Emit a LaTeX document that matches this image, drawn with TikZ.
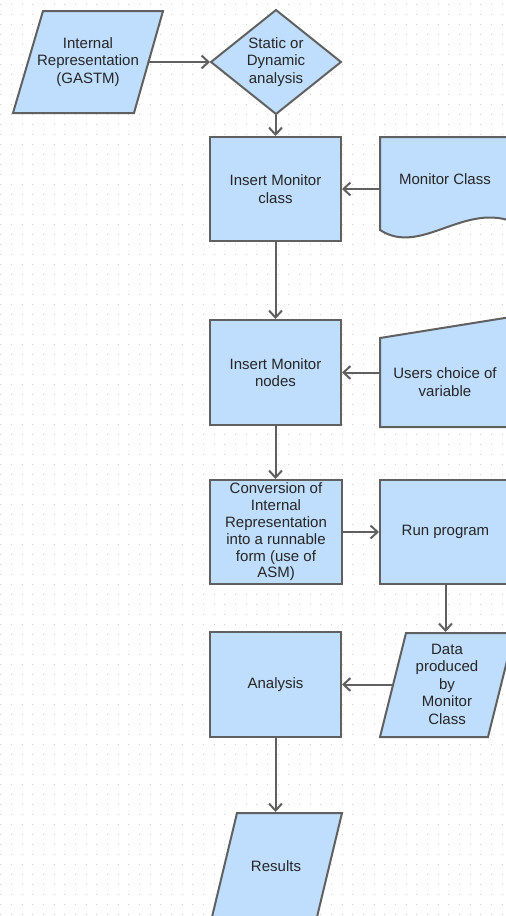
\documentclass[tikz,border=0pt]{standalone}
\usepackage{fontspec}
\setmainfont{Liberation Sans}
\usetikzlibrary{arrows.meta}
\definecolor{fillc}{RGB}{191,221,252}
\definecolor{linec}{RGB}{96,96,96}
\definecolor{textc}{RGB}{38,38,38}
\definecolor{dotc}{RGB}{208,208,208}
\begin{document}
\begin{tikzpicture}[x=1pt,y=-1pt,
  shapeline/.style={draw=linec, fill=fillc, line width=2pt, line join=miter},
  lbl/.style={align=center, text=textc, font=\fontsize{15}{17.5}\selectfont, inner sep=0pt},
  box/.style={shapeline, lbl, rectangle, minimum width=131pt, minimum height=104pt},
  conn/.style={draw=linec, line width=2pt, -{Straight Barb[length=7pt,width=13pt]}}]
\useasboundingbox (0,0) rectangle (506,916);
\clip (0,0) rectangle (506,916);
% dotted grid
\foreach \i in {0,...,47} {
  \draw[dotc, line width=1pt, dash pattern=on 1.5pt off 8.5pt] ({0.8+10.67*\i},3.5) -- ({0.8+10.67*\i},916);
}
% Internal Representation
\draw[shapeline] (43,11) -- (163,11) -- (134,113) -- (13,113) -- cycle;
\node[lbl] (irep) at (88,62) {Internal\\Representation\\(GASTM)};
\coordinate (irepR) at (148.5,62);
% Decision
\draw[shapeline] (276,10) -- (341,62) -- (276,114) -- (211,62) -- cycle;
\node[lbl] (sda) at (276,62) {Static or\\Dynamic\\analysis};
\coordinate (sdaL) at (210,62);
\coordinate (sdaB) at (275.5,115);
% Boxes
\node[box] (imc) at (275.5,189) {Insert Monitor\\class};
\node[box, minimum height=105pt] (imn) at (275.5,372.5) {Insert Monitor\\nodes};
\node[box, minimum width=132pt, font=\fontsize{15}{16.8}\selectfont] (conv) at (276,532) {Conversion of\\Internal\\Representation\\into a runnable\\form (use of\\ASM)};
\node[box] (run) at (445.5,532) {Run program};
\node[box, minimum height=105pt] (ana) at (275.5,684.5) {Analysis};
% Monitor Class document
\draw[shapeline] (380,137) -- (380,230) .. controls (420,256) and (462,204) .. (511,221) -- (511,137) -- cycle;
\node[lbl] (mc) at (445,179) {Monitor Class};
\coordinate (mcL) at (379,189);
% Users choice manual input
\draw[shapeline] (380,338) -- (511,317) -- (511,427) -- (380,427) -- cycle;
\node[lbl] (uc) at (445,382) {Users choice of\\variable};
\coordinate (ucL) at (379,372.5);
% Data produced
\draw[shapeline] (406,633) -- (514,633) -- (488,737) -- (380,737) -- cycle;
\node[lbl] (data) at (447,684) {Data\\produced\\by\\Monitor\\Class};
\coordinate (dataL) at (392.5,684.5);
\coordinate (dataT) at (445.5,632);
% Results
\draw[shapeline] (237,813) -- (342,813) -- (317,917) -- (212,917) -- cycle;
\node[lbl] (res) at (276,866) {Results};
\coordinate (resT) at (275.5,812);
% Connectors
\draw[conn] (irepR) -- (sdaL);
\draw[conn] (sdaB) -- (imc.north);
\draw[conn] (mcL) -- (imc.east);
\draw[conn] (imc.south) -- (imn.north);
\draw[conn] (ucL) -- (imn.east);
\draw[conn] (imn.south) -- (imn.south |- conv.north);
\draw[conn] (conv.east) -- (run.west);
\draw[conn] (run.south) -- (dataT);
\draw[conn] (dataL) -- (ana.east);
\draw[conn] (ana.south) -- (resT);
\end{tikzpicture}
\end{document}
